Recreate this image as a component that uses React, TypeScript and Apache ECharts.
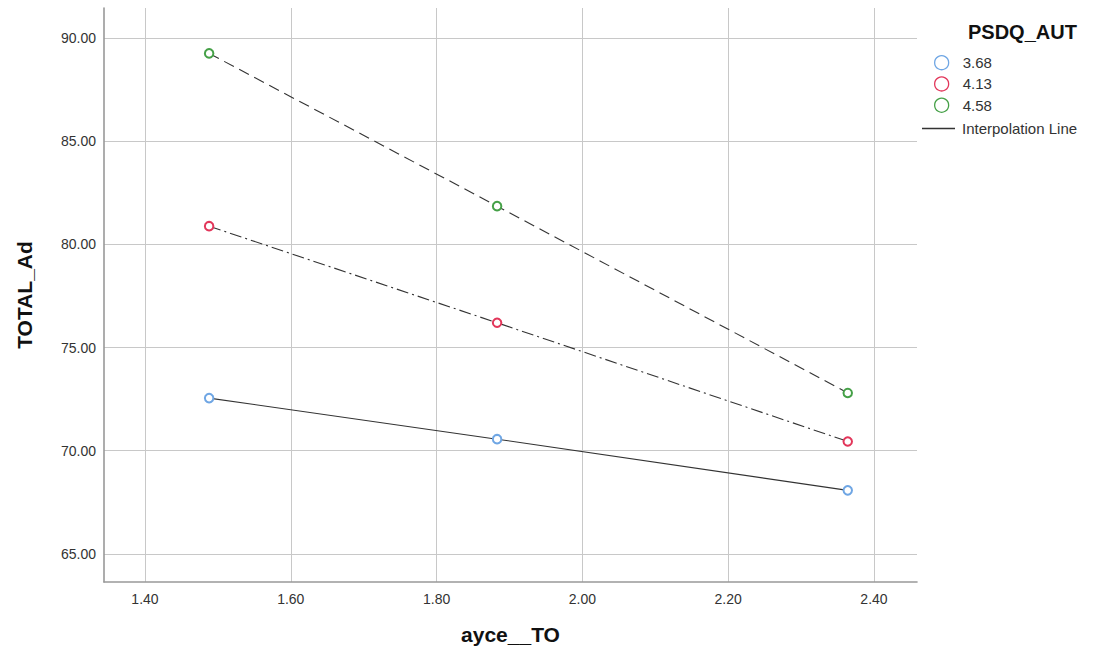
import React, { useEffect, useRef } from "react";
import * as echarts from "echarts";

const xValues = [1.488, 1.883, 2.364];
const groupNames = ["3.68", "4.13", "4.58"];
const groupColors = ["#6fa6e4", "#e2365a", "#45a047"];
const groupDash: (number[] | "solid")[] = ["solid", [12, 4, 2, 4], [11, 6]];
const yBlue = [72.55, 70.56, 68.08];
const yRed = [80.88, 76.2, 70.45];
const yGreen = [89.25, 81.85, 72.8];
const groupValues = [yBlue, yRed, yGreen];
const legendTitle = "PSDQ_AUT";
const lineLegendName = "Interpolation Line";

const font = "'Liberation Sans', Arial, sans-serif";

export default function App() {
  const ref = useRef<HTMLDivElement>(null);
  useEffect(() => {
    if (!ref.current) return;
    const chart = echarts.init(ref.current, undefined, { renderer: "svg" });
    const series: any[] = groupNames.map((name, i) => ({
      name,
      type: "line",
      data: xValues.map((x, j) => [x, groupValues[i][j]]),
      symbol: "emptyCircle",
      symbolSize: 8.5,
      showSymbol: true,
      z: 3,
      itemStyle: { color: groupColors[i], borderWidth: 1.2 },
      lineStyle: { color: "#333", width: 1.1, type: groupDash[i] },
    }));
    series.push({
      name: lineLegendName,
      type: "line",
      data: [],
      itemStyle: { color: "#333" },
      lineStyle: { color: "#333" },
    });
    const fmt = (step: number) => (v: number) => {
      const r = Math.round(v / step) * step;
      return Math.abs(r - v) < 1e-6 ? v.toFixed(2) : "";
    };
    chart.setOption({
      animation: false,
      backgroundColor: "#fff",
      textStyle: { fontFamily: font },
      title: {
        text: legendTitle,
        left: 963,
        top: 17,
        textStyle: { fontFamily: font, fontSize: 20, fontWeight: "bold", color: "#111" },
      },
      legend: [
        {
          data: groupNames.map((n, i) => ({
            name: n,
            icon: "circle",
            itemStyle: { color: "#fff", borderColor: groupColors[i], borderWidth: 1.3 },
          })),
          orient: "vertical",
          left: 934,
          top: 55,
          padding: 0,
          itemWidth: 14,
          itemHeight: 14,
          itemGap: 6,
          textStyle: { fontFamily: font, fontSize: 15, color: "#333", padding: [0, 0, 0, 9] },
        },
        {
          data: [{ name: lineLegendName, icon: "rect", itemStyle: { color: "#333" } }],
          left: 922,
          top: 121,
          padding: 0,
          itemWidth: 33,
          itemHeight: 1.3,
          textStyle: { fontFamily: font, fontSize: 15, color: "#333", padding: [0, 0, 0, 2] },
        },
      ],
      grid: { left: 104, top: 8, right: 190, bottom: 68, containLabel: false },
      xAxis: {
        type: "value",
        min: 1.3438,
        max: 2.459,
        splitNumber: 5,
        name: "ayce__TO",
        nameLocation: "middle",
        nameGap: 42,
        nameTextStyle: { fontFamily: font, fontSize: 21, fontWeight: "bold", color: "#111" },
        axisLine: { lineStyle: { color: "#999", width: 1.6 } },
        axisTick: { show: false },
        axisLabel: { formatter: fmt(0.2), fontSize: 14, color: "#333", margin: 10, showMinLabel: true, showMaxLabel: true },
        splitLine: { show: true, lineStyle: { color: "#c8c8c8", width: 1 }, showMinLine: false, showMaxLine: false },
      },
      yAxis: {
        type: "value",
        min: 63.64,
        max: 91.45,
        splitNumber: 5,
        name: "TOTAL_Ad",
        nameLocation: "middle",
        nameGap: 69,
        nameTextStyle: { fontFamily: font, fontSize: 21, fontWeight: "bold", color: "#111" },
        axisLine: { show: true, lineStyle: { color: "#999", width: 1.6 } },
        axisTick: { show: false },
        axisLabel: { formatter: fmt(5), fontSize: 14, color: "#333", margin: 8 },
        splitLine: { show: true, lineStyle: { color: "#c8c8c8", width: 1 }, showMinLine: false, showMaxLine: false },
      },
      series,
    });
    return () => chart.dispose();
  }, []);
  return (
    <div
      ref={ref}
      style={{ position: "fixed", left: 0, top: 0, width: 1107, height: 650 }}
    />
  );
}
